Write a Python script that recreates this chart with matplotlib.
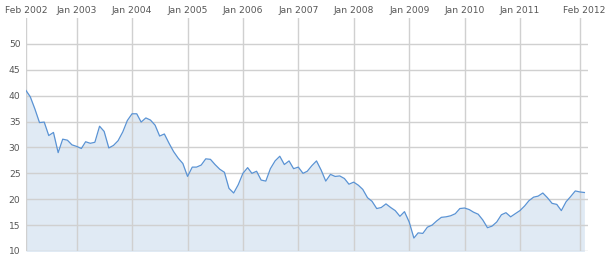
import matplotlib
matplotlib.use("Agg")
import matplotlib.pyplot as plt
import matplotlib.dates as mdates
import matplotlib.transforms as mtransforms
import pandas as pd

# Monthly values, Feb 2002 .. Mar 2012
values = [
    41.0, 39.8, 37.4, 34.8, 34.9, 32.3, 32.9, 29.0, 31.6, 31.4, 30.5, 30.2,   # Feb02-Jan03
    29.8, 31.1, 30.8, 31.0, 34.1, 33.1, 29.9, 30.4, 31.3, 33.0, 35.2, 36.5,   # Feb03-Jan04
    36.5, 34.9, 35.7, 35.3, 34.3, 32.2, 32.6, 30.8, 29.2, 27.9, 26.9, 24.4,   # Feb04-Jan05
    26.2, 26.2, 26.6, 27.8, 27.7, 26.7, 25.8, 25.2, 22.1, 21.2, 22.8, 25.0,   # Feb05-Jan06
    26.1, 25.0, 25.4, 23.7, 23.5, 25.9, 27.4, 28.3, 26.7, 27.4, 25.9, 26.2,   # Feb06-Jan07
    25.0, 25.4, 26.5, 27.4, 25.6, 23.5, 24.8, 24.4, 24.5, 24.0, 22.9, 23.3,   # Feb07-Jan08
    22.7, 21.9, 20.3, 19.6, 18.2, 18.4, 19.1, 18.4, 17.8, 16.7, 17.6, 15.6,   # Feb08-Jan09
    12.5, 13.5, 13.4, 14.6, 15.0, 15.8, 16.5, 16.6, 16.8, 17.2, 18.2, 18.3,   # Feb09-Jan10
    18.0, 17.5, 17.1, 16.0, 14.5, 14.8, 15.6, 17.0, 17.4, 16.6, 17.2, 17.8,   # Feb10-Jan11
    18.7, 19.7, 20.4, 20.6, 21.2, 20.3, 19.2, 19.0, 17.8, 19.5, 20.5, 21.6,   # Feb11-Jan12
    21.4, 21.3,                                                               # Feb12-Mar12
]
dates = pd.date_range("2002-02-01", periods=len(values), freq="MS")

tick_dates = ["2002-02-01", "2003-01-01", "2004-01-01", "2005-01-01", "2006-01-01",
              "2007-01-01", "2008-01-01", "2009-01-01", "2010-01-01", "2011-01-01",
              "2012-02-01"]
tick_labels = ["Feb 2002", "Jan 2003", "Jan 2004", "Jan 2005", "Jan 2006", "Jan 2007",
               "Jan 2008", "Jan 2009", "Jan 2010", "Jan 2011", "Feb 2012"]
y_ticks = [10, 15, 20, 25, 30, 35, 40, 45, 50]

line_color = "#5a93d4"
fill_color = "#e0eaf4"
grid_color = "#d0d0d0"
text_color = "#555555"

fig = plt.figure(figsize=(6.12, 2.58), dpi=100)
ax = fig.add_axes([26 / 612, 7 / 258, 562 / 612, 233 / 258])

ax.fill_between(dates, values, 0, color=fill_color, linewidth=0, zorder=1)
ax.plot(dates, values, color=line_color, linewidth=0.9, zorder=3)

td = pd.to_datetime(tick_dates)
ax.set_xticks(td)
ax.set_xticklabels(tick_labels)
ax.xaxis.tick_top()
ax.set_yticks(y_ticks)

ax.set_ylim(10, 55)
start = mdates.date2num(pd.Timestamp("2002-02-01"))
end_feb12 = mdates.date2num(pd.Timestamp("2012-02-01"))
span = end_feb12 - start
ax.set_xlim(start, start + span * (562 / 554))

ax.grid(True, color=grid_color, linewidth=1.0, zorder=2)
ax.set_axisbelow(False)
for s in ax.spines.values():
    s.set_visible(False)
ax.tick_params(axis="both", length=0, labelsize=6.6, colors=text_color)
ax.tick_params(axis="x", pad=2.5)
ax.tick_params(axis="y", pad=4)

last = ax.get_xticklabels()[-1]
last.set_transform(last.get_transform() +
                   mtransforms.ScaledTranslation(4 / 100, 0, fig.dpi_scale_trans))

fig.savefig("out.png", dpi=100)
